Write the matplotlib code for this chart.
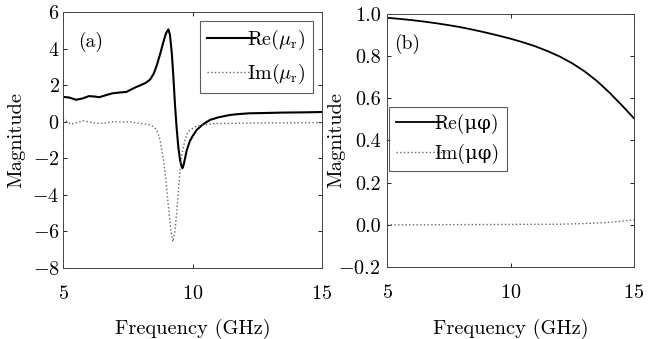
import matplotlib
matplotlib.use("Agg")
import matplotlib.pyplot as plt
import matplotlib.ticker as mticker

plt.rcParams['font.family'] = ['cmr10', 'DejaVu Serif']
plt.rcParams['mathtext.fontset'] = 'cm'
plt.rcParams['axes.formatter.use_mathtext'] = True
plt.rcParams['font.size'] = 14

# Panel (a) data
freq_re_a = [5.0, 5.25, 5.5, 5.75, 6.0, 6.2, 6.4, 6.65, 6.9, 7.2, 7.45, 7.6, 7.8, 8.0, 8.2, 8.36, 8.5, 8.62, 8.75,
             8.88, 8.98, 9.07, 9.13, 9.2, 9.26, 9.32, 9.38, 9.45, 9.52, 9.58, 9.61, 9.66, 9.72, 9.78, 9.9, 10.0,
             10.16, 10.4, 10.68, 11.0, 11.45, 11.8, 12.2, 12.9, 13.5, 14.2, 15.0]
re_a = [1.36, 1.32, 1.2, 1.27, 1.4, 1.38, 1.34, 1.45, 1.55, 1.6, 1.63, 1.74, 1.88, 2.0, 2.13, 2.3, 2.62, 3.08, 3.7,
        4.38, 4.85, 5.05, 4.75, 3.76, 2.5, 1.02, -0.2, -1.36, -2.1, -2.45, -2.55, -2.35, -1.95, -1.55, -1.05, -0.8,
        -0.45, -0.15, 0.1, 0.24, 0.37, 0.42, 0.46, 0.48, 0.5, 0.51, 0.53]

freq_im_a = [5.0, 5.15, 5.3, 5.55, 5.8, 6.05, 6.3, 6.6, 6.9, 7.3, 7.59, 8.0, 8.2, 8.36, 8.5, 8.62, 8.75, 8.88,
             8.98, 9.07, 9.15, 9.24, 9.32, 9.4, 9.46, 9.52, 9.6, 9.71, 9.8, 9.9, 10.1, 10.4, 10.8, 11.5, 12.5,
             13.5, 15.0]
im_a = [0.18, 0.0, -0.13, -0.05, 0.05, -0.02, -0.09, -0.08, 0.0, -0.02, 0.0, -0.1, -0.13, -0.18, -0.28, -0.45,
        -1.0, -2.09, -3.3, -4.64, -5.8, -6.56, -6.0, -4.83, -3.7, -2.64, -1.7, -1.0, -0.65, -0.45, -0.28, -0.18,
        -0.1, -0.09, -0.07, -0.06, -0.05]

# Panel (b) data
freq_b = [5.0, 5.5, 6.0, 6.5, 7.0, 7.5, 8.0, 8.5, 9.0, 9.5, 10.0, 10.5, 11.0, 11.5, 12.0, 12.5, 13.0, 13.5, 14.0,
          14.5, 15.0]
re_b = [0.982, 0.977, 0.971, 0.964, 0.956, 0.947, 0.937, 0.925, 0.912, 0.898, 0.883, 0.866, 0.847, 0.824, 0.798,
        0.766, 0.728, 0.682, 0.628, 0.568, 0.505]
im_b = [0.0, 0.0, 0.0, 0.0003, 0.0005, 0.0008, 0.001, 0.0012, 0.0015, 0.0018, 0.002, 0.0023, 0.0026, 0.0028,
        0.003, 0.0045, 0.006, 0.009, 0.012, 0.017, 0.024]

W, H = 649, 339
fig = plt.figure(figsize=(W / 100, H / 100), dpi=100)

ax1 = fig.add_axes([63 / W, (H - 268) / H, (322 - 63) / W, (268 - 12) / H])
ax2 = fig.add_axes([387 / W, (H - 267) / H, (634 - 387) / W, (267 - 14) / H])

for ax in (ax1, ax2):
    ax.tick_params(direction='in', top=True, right=True, length=3, width=0.6, labelsize=14.5)
    ax.tick_params(axis='x', pad=12)
    for s in ax.spines.values():
        s.set_linewidth(0.7)
        s.set_color('#444444')
    ax.set_xlim(5, 15)
    ax.set_xticks([5, 10, 15])
    ax.set_xlabel('Frequency (GHz)', fontsize=14.7)
    ax.set_ylabel('Magnitude', fontsize=14.7)

ax1.tick_params(axis='y', pad=2.5)
ax2.tick_params(axis='y', pad=4.5)
ax1.xaxis.set_label_coords(0.5, -0.2)
ax2.xaxis.set_label_coords(0.5, -0.205)
ax1.yaxis.set_label_coords(-0.147, 0.5)
ax2.yaxis.set_label_coords(-0.17, 0.5)

ax1.plot(freq_re_a, re_a, color='black', lw=1.5, label=r'Re($\mu_\mathrm{r}$)')
ax1.plot(freq_im_a, im_a, color='#666666', lw=1.0, ls=':', label=r'Im($\mu_\mathrm{r}$)')
ax1.set_ylim(-8, 6)
ax1.set_yticks([-8, -6, -4, -2, 0, 2, 4, 6])
ax1.text(5.58, 4.35, '(a)', fontsize=14, va='center')
leg1 = ax1.legend(loc='upper right', bbox_to_anchor=(0.965, 0.965), borderaxespad=0, frameon=True,
                  fancybox=False, edgecolor='#333333', handlelength=2.4, handletextpad=-0.4, fontsize=14.5,
                  borderpad=0.35, labelspacing=0.5)
leg1.get_frame().set_linewidth(0.8)

ax2.plot(freq_b, re_b, color='black', lw=1.3, label='Re(μφ)')
ax2.plot(freq_b, im_b, color='#666666', lw=1.0, ls=':', label='Im(μφ)')
ax2.set_ylim(-0.2, 1.0)
ax2.set_yticks([-0.2, 0.0, 0.2, 0.4, 0.6, 0.8, 1.0])
ax2.yaxis.set_major_formatter(mticker.FuncFormatter(
    lambda v, p: ('$-$' if v < -1e-9 else '') + f'{abs(v):.1f}'))
ax2.text(5.3, 0.86, '(b)', fontsize=14, va='center')
leg2 = ax2.legend(loc='upper left', bbox_to_anchor=(0.008, 0.632), borderaxespad=0, frameon=True,
                  fancybox=False, edgecolor='#333333', handlelength=2.4, handletextpad=-0.4, fontsize=14,
                  borderpad=0.35, labelspacing=0.5)
leg2.get_frame().set_linewidth(0.8)

fig.savefig('out.png', dpi=100)
